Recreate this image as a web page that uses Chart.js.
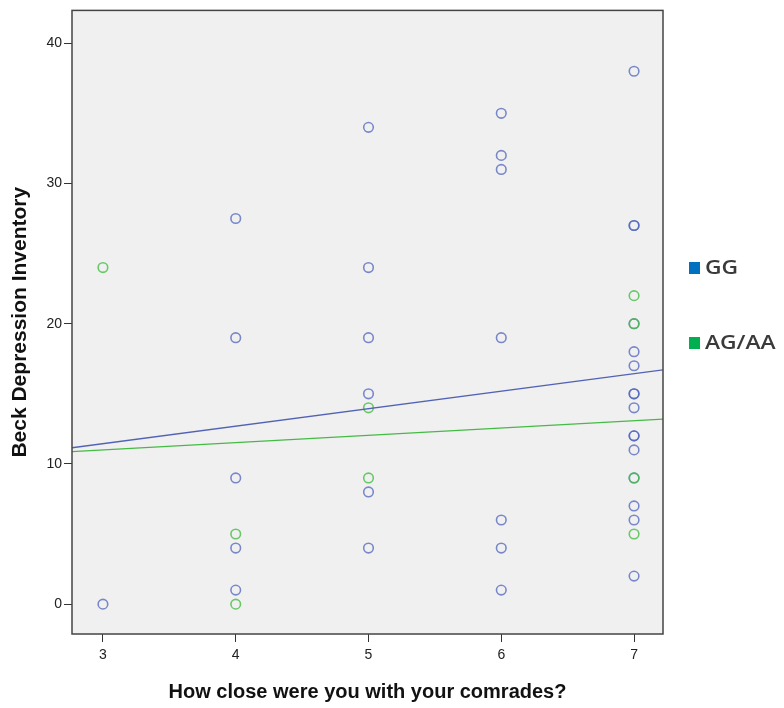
<!DOCTYPE html>
<html>
<head>
<meta charset="utf-8">
<script src="https://cdn.jsdelivr.net/npm/chart.js@4"></script>
<style>
  html, body { margin: 0; padding: 0; background: #fff; }
  #wrap { width: 784px; height: 708px; }
</style>
</head>
<body>
<div id="wrap"><canvas id="grafico"></canvas></div>
<script>
// Dados
const xTicks = [3, 4, 5, 6, 7];
const yTicks = [0, 10, 20, 30, 40];

const ggX = [3, 4, 4, 4, 4, 4, 5, 5, 5, 5, 5, 5, 6, 6, 6, 6, 6, 6, 6,
             7, 7, 7, 7, 7, 7, 7, 7, 7, 7, 7, 7, 7, 7, 7, 7];
const ggY = [0, 27.5, 19, 9, 4, 1, 34, 24, 19, 15, 8, 4, 35, 32, 31, 19, 6, 4, 1,
             38, 27, 27, 20, 18, 17, 15, 15, 14, 12, 12, 11, 9, 7, 6, 2];

const agX = [3, 4, 4, 5, 5, 7, 7, 7, 7];
const agY = [24, 5, 0, 14, 9, 22, 20, 9, 5];

// Retas de ajuste (extremos lidos)
const fitX = [2.767, 7.218];
const ggFit = [11.15, 16.7];
const agFit = [10.87, 13.2];

const legendas = ['GG', 'AG/AA'];
const coresLegenda = ['#0070C0', '#00B050'];

function pares(xs, ys) {
    return xs.map((x, i) => ({ x: x, y: ys[i] }));
}

// fundo cinza + moldura + legenda
const moldura = {
    id: 'moldura',
    beforeDraw(chart) {
        const a = chart.chartArea, ctx = chart.ctx;
        ctx.save();
        ctx.fillStyle = '#F0F0F0';
        ctx.fillRect(a.left, a.top, a.right - a.left, a.bottom - a.top);
        ctx.restore();
    },
    afterDraw(chart) {
        const a = chart.chartArea, ctx = chart.ctx;
        ctx.save();
        ctx.strokeStyle = '#444';
        ctx.lineWidth = 1.5;
        ctx.strokeRect(a.left, a.top, a.right - a.left, a.bottom - a.top);

        const ys = [268, 343];
        ctx.textBaseline = 'middle';
        legendas.forEach((txt, i) => {
            ctx.fillStyle = coresLegenda[i];
            ctx.fillRect(689, ys[i] - 6, 11, 12);
            ctx.save();
            ctx.translate(705, ys[i] + 1);
            ctx.scale(1.2, 1);
            ctx.font = '600 19px "Open Sans", "DejaVu Sans", sans-serif';
            ctx.fillStyle = '#3a3a3a';
            ctx.fillText(txt, 0, 0);
            ctx.restore();
        });
        ctx.restore();
    }
};

const ctx1 = document.getElementById('grafico').getContext('2d');
const grafico = new Chart(ctx1, {
    type: 'scatter',
    data: {
        datasets: [
            {
                label: 'GG fit',
                data: pares(fitX, ggFit),
                showLine: true,
                borderColor: '#5263B5',
                borderWidth: 1.3,
                pointRadius: 0,
                order: 0
            },
            {
                label: 'AG/AA fit',
                data: pares(fitX, agFit),
                showLine: true,
                borderColor: '#44BB44',
                borderWidth: 1.3,
                pointRadius: 0,
                order: 0
            },
            {
                label: legendas[1],
                data: pares(agX, agY),
                pointRadius: 4.8,
                pointBorderWidth: 1.6,
                borderColor: 'rgba(70, 190, 70, 0.8)',
                backgroundColor: 'rgba(0,0,0,0)',
                order: 1
            },
            {
                label: legendas[0],
                data: pares(ggX, ggY),
                pointRadius: 4.8,
                pointBorderWidth: 1.6,
                borderColor: 'rgba(80, 100, 190, 0.75)',
                backgroundColor: 'rgba(0,0,0,0)',
                order: 2
            }
        ]
    },
    options: {
        responsive: true,
        maintainAspectRatio: false,
        animation: false,
        layout: { padding: { top: 8, right: 121, bottom: 0, left: 0 } },
        plugins: {
            legend: { display: false },
            tooltip: { enabled: false }
        },
        scales: {
            x: {
                type: 'linear',
                min: 2.767,
                max: 7.218,
                afterBuildTicks: (s) => { s.ticks = xTicks.map(v => ({ value: v })); },
                afterFit: (s) => { s.height = 74; },
                grid: { drawOnChartArea: false, drawTicks: true, tickLength: 8, color: '#333' },
                border: { display: false },
                ticks: {
                    color: '#222',
                    font: { family: 'Liberation Sans, Arial, sans-serif', size: 14 },
                    padding: 5,
                    maxRotation: 0
                },
                title: {
                    display: true,
                    text: 'How close were you with your comrades?',
                    color: '#111',
                    font: { family: 'Liberation Sans, Arial, sans-serif', size: 20, weight: 'bold' },
                    padding: { top: 10, bottom: 4 }
                }
            },
            y: {
                type: 'linear',
                min: -2.13,
                max: 42.34,
                afterBuildTicks: (s) => { s.ticks = yTicks.map(v => ({ value: v })); },
                afterFit: (s) => { s.width = 72; },
                grid: { drawOnChartArea: false, drawTicks: true, tickLength: 8, color: '#333' },
                border: { display: false },
                ticks: {
                    color: '#222',
                    font: { family: 'Liberation Sans, Arial, sans-serif', size: 14 },
                    padding: 2
                },
                title: {
                    display: true,
                    text: 'Beck Depression Inventory',
                    color: '#111',
                    font: { family: 'Liberation Sans, Arial, sans-serif', size: 21, weight: 'bold' },
                    padding: { top: 8, bottom: 2 }
                }
            }
        }
    },
    plugins: [moldura]
});
</script>
</body>
</html>
